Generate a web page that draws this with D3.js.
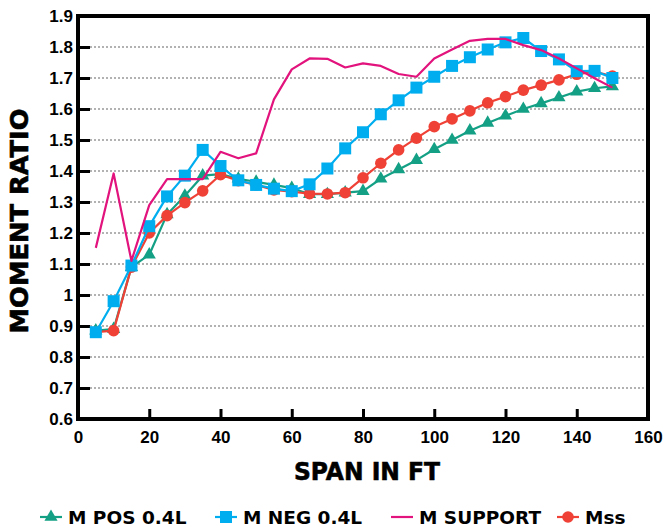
<!DOCTYPE html>
<meta charset="utf-8">
<style>
body {
  margin: 0;
  background: #fff;
  font-family: "DejaVu Sans", "Liberation Sans", Helvetica, Arial, sans-serif;
}
.tick text {
  font-size: 17px;
  font-weight: bold;
}
.title {
  font-size: 25px;
  font-weight: bold;
  stroke: #000;
  stroke-width: 0.6px;
}
.legend text {
  font-size: 18.5px;
  font-weight: bold;
}
</style>
<body>
<script src="https://cdn.jsdelivr.net/npm/d3@7"></script>
<script>

var span = [5, 10, 15, 20, 25, 30, 35, 40, 45, 50, 55, 60, 65, 70, 75,
            80, 85, 90, 95, 100, 105, 110, 115, 120, 125, 130, 135, 140, 145, 150];

var mPos = [0.885, 0.89, 1.09, 1.13, 1.26, 1.32, 1.385, 1.39, 1.375, 1.365, 1.355, 1.345, 1.325, 1.325, 1.33,
            1.335, 1.375, 1.405, 1.435, 1.47, 1.5, 1.53, 1.555, 1.578, 1.6, 1.618, 1.637, 1.656, 1.667, 1.673];

var mNeg = [0.88, 0.98, 1.095, 1.222, 1.318, 1.385, 1.468, 1.416, 1.37, 1.355, 1.343, 1.335, 1.357, 1.408, 1.473,
            1.525, 1.583, 1.628, 1.669, 1.704, 1.739, 1.767, 1.792, 1.815, 1.829, 1.787, 1.76, 1.722, 1.723, 1.7];

var mSupport = [1.152, 1.392, 1.11, 1.29, 1.374, 1.374, 1.374, 1.462, 1.441, 1.457, 1.631, 1.728, 1.763, 1.762, 1.734,
                1.747, 1.739, 1.713, 1.704, 1.763, 1.792, 1.82, 1.826, 1.826, 1.806, 1.79, 1.763, 1.731, 1.699, 1.669];

var mss = [0.88, 0.885, 1.09, 1.2, 1.256, 1.298, 1.336, 1.388, 1.369, 1.355, 1.339, 1.333, 1.327, 1.326, 1.33,
           1.378, 1.425, 1.468, 1.506, 1.543, 1.568, 1.594, 1.62, 1.64, 1.661, 1.677, 1.694, 1.712, 1.72, 1.706];

var xTicks = [0, 20, 40, 60, 80, 100, 120, 140, 160];
var yTicks = [0.6, 0.7, 0.8, 0.9, 1, 1.1, 1.2, 1.3, 1.4, 1.5, 1.6, 1.7, 1.8, 1.9];

var series = [
  {name: "M POS 0.4L", values: mPos, color: "#14a085", marker: "triangle"},
  {name: "Mss", values: mss, color: "#ef4136", marker: "circle"},
  {name: "M NEG 0.4L", values: mNeg, color: "#00aeef", marker: "square"},
  {name: "M SUPPORT", values: mSupport, color: "#e2137d", marker: "none"}
];
var legendOrder = ["M POS 0.4L", "M NEG 0.4L", "M SUPPORT", "Mss"];
var legendX = [40, 215, 391, 557];

var width = 666,
    height = 528,
    plotLeft = 78, plotRight = 648, plotTop = 16, plotBottom = 419;

var x = d3.scaleLinear().domain([0, 160]).range([plotLeft, plotRight]);
var y = d3.scaleLinear().domain([0.6, 1.9]).range([plotBottom, plotTop]);

var svg = d3.select("body").append("svg")
    .attr("width", width)
    .attr("height", height);

// dotted grid
svg.append("g").selectAll("line")
    .data(yTicks.slice(1, -1))
  .enter().append("line")
    .attr("x1", plotLeft).attr("x2", plotRight)
    .attr("y1", function(d) { return y(d); })
    .attr("y2", function(d) { return y(d); })
    .attr("stroke", "#999")
    .attr("stroke-width", 1.5)
    .attr("stroke-dasharray", "2,2");

// axes, ticks drawn inward
var yAxis = svg.append("g")
    .attr("transform", "translate(" + plotLeft + ",0)")
    .call(d3.axisLeft(y).tickValues(yTicks).tickFormat(d3.format("")).tickSize(-12).tickPadding(5));
var xAxis = svg.append("g")
    .attr("transform", "translate(0," + plotBottom + ")")
    .call(d3.axisBottom(x).tickValues(xTicks).tickSize(-10).tickPadding(12));

[yAxis, xAxis].forEach(function(g) {
  g.select(".domain").remove();
  g.selectAll(".tick line").attr("stroke", "#000").attr("stroke-width", 3);
  g.selectAll(".tick text").attr("fill", "#000");
});

// frame
svg.append("rect")
    .attr("x", plotLeft).attr("y", plotTop)
    .attr("width", plotRight - plotLeft).attr("height", plotBottom - plotTop)
    .attr("fill", "none")
    .attr("stroke", "#000")
    .attr("stroke-width", 4);

// series
var line = d3.line()
    .x(function(d, i) { return x(span[i]); })
    .y(function(d) { return y(d); });

function marker(g, type, color, cx, cy) {
  if (type === "circle") {
    g.append("circle").attr("cx", cx).attr("cy", cy).attr("r", 5.8).attr("fill", color);
  } else if (type === "square") {
    g.append("rect").attr("x", cx - 6).attr("y", cy - 6).attr("width", 12).attr("height", 12).attr("fill", color);
  } else if (type === "triangle") {
    g.append("path")
        .attr("d", d3.symbol().type(d3.symbolTriangle).size(75)())
        .attr("transform", "translate(" + cx + "," + cy + ")")
        .attr("fill", color);
  }
}

series.forEach(function(s) {
  var g = svg.append("g");
  g.append("path")
      .datum(s.values)
      .attr("d", line)
      .attr("fill", "none")
      .attr("stroke", s.color)
      .attr("stroke-width", 2.2)
      .attr("stroke-linejoin", "round");
  s.values.forEach(function(v, i) {
    marker(g, s.marker, s.color, x(span[i]), y(v));
  });
});

// titles
svg.append("text")
    .attr("class", "title")
    .attr("transform", "translate(28,221) rotate(-90)")
    .attr("text-anchor", "middle")
    .attr("textLength", 225)
    .attr("lengthAdjust", "spacingAndGlyphs")
    .text("MOMENT RATIO");

svg.append("text")
    .attr("class", "title")
    .attr("x", 367).attr("y", 480)
    .attr("text-anchor", "middle")
    .attr("textLength", 146)
    .attr("lengthAdjust", "spacingAndGlyphs")
    .text("SPAN IN FT");

// legend
var legend = svg.append("g").attr("class", "legend");
legendOrder.forEach(function(name, i) {
  var s = series.filter(function(d) { return d.name === name; })[0];
  var g = legend.append("g");
  var lx = legendX[i], ly = 517;
  g.append("line")
      .attr("x1", lx).attr("x2", lx + 22)
      .attr("y1", ly).attr("y2", ly)
      .attr("stroke", s.color).attr("stroke-width", 2.2);
  marker(g, s.marker, s.color, lx + 11, ly);
  g.append("text")
      .attr("x", lx + 28).attr("y", ly + 6.5)
      .text(name);
});

</script>
